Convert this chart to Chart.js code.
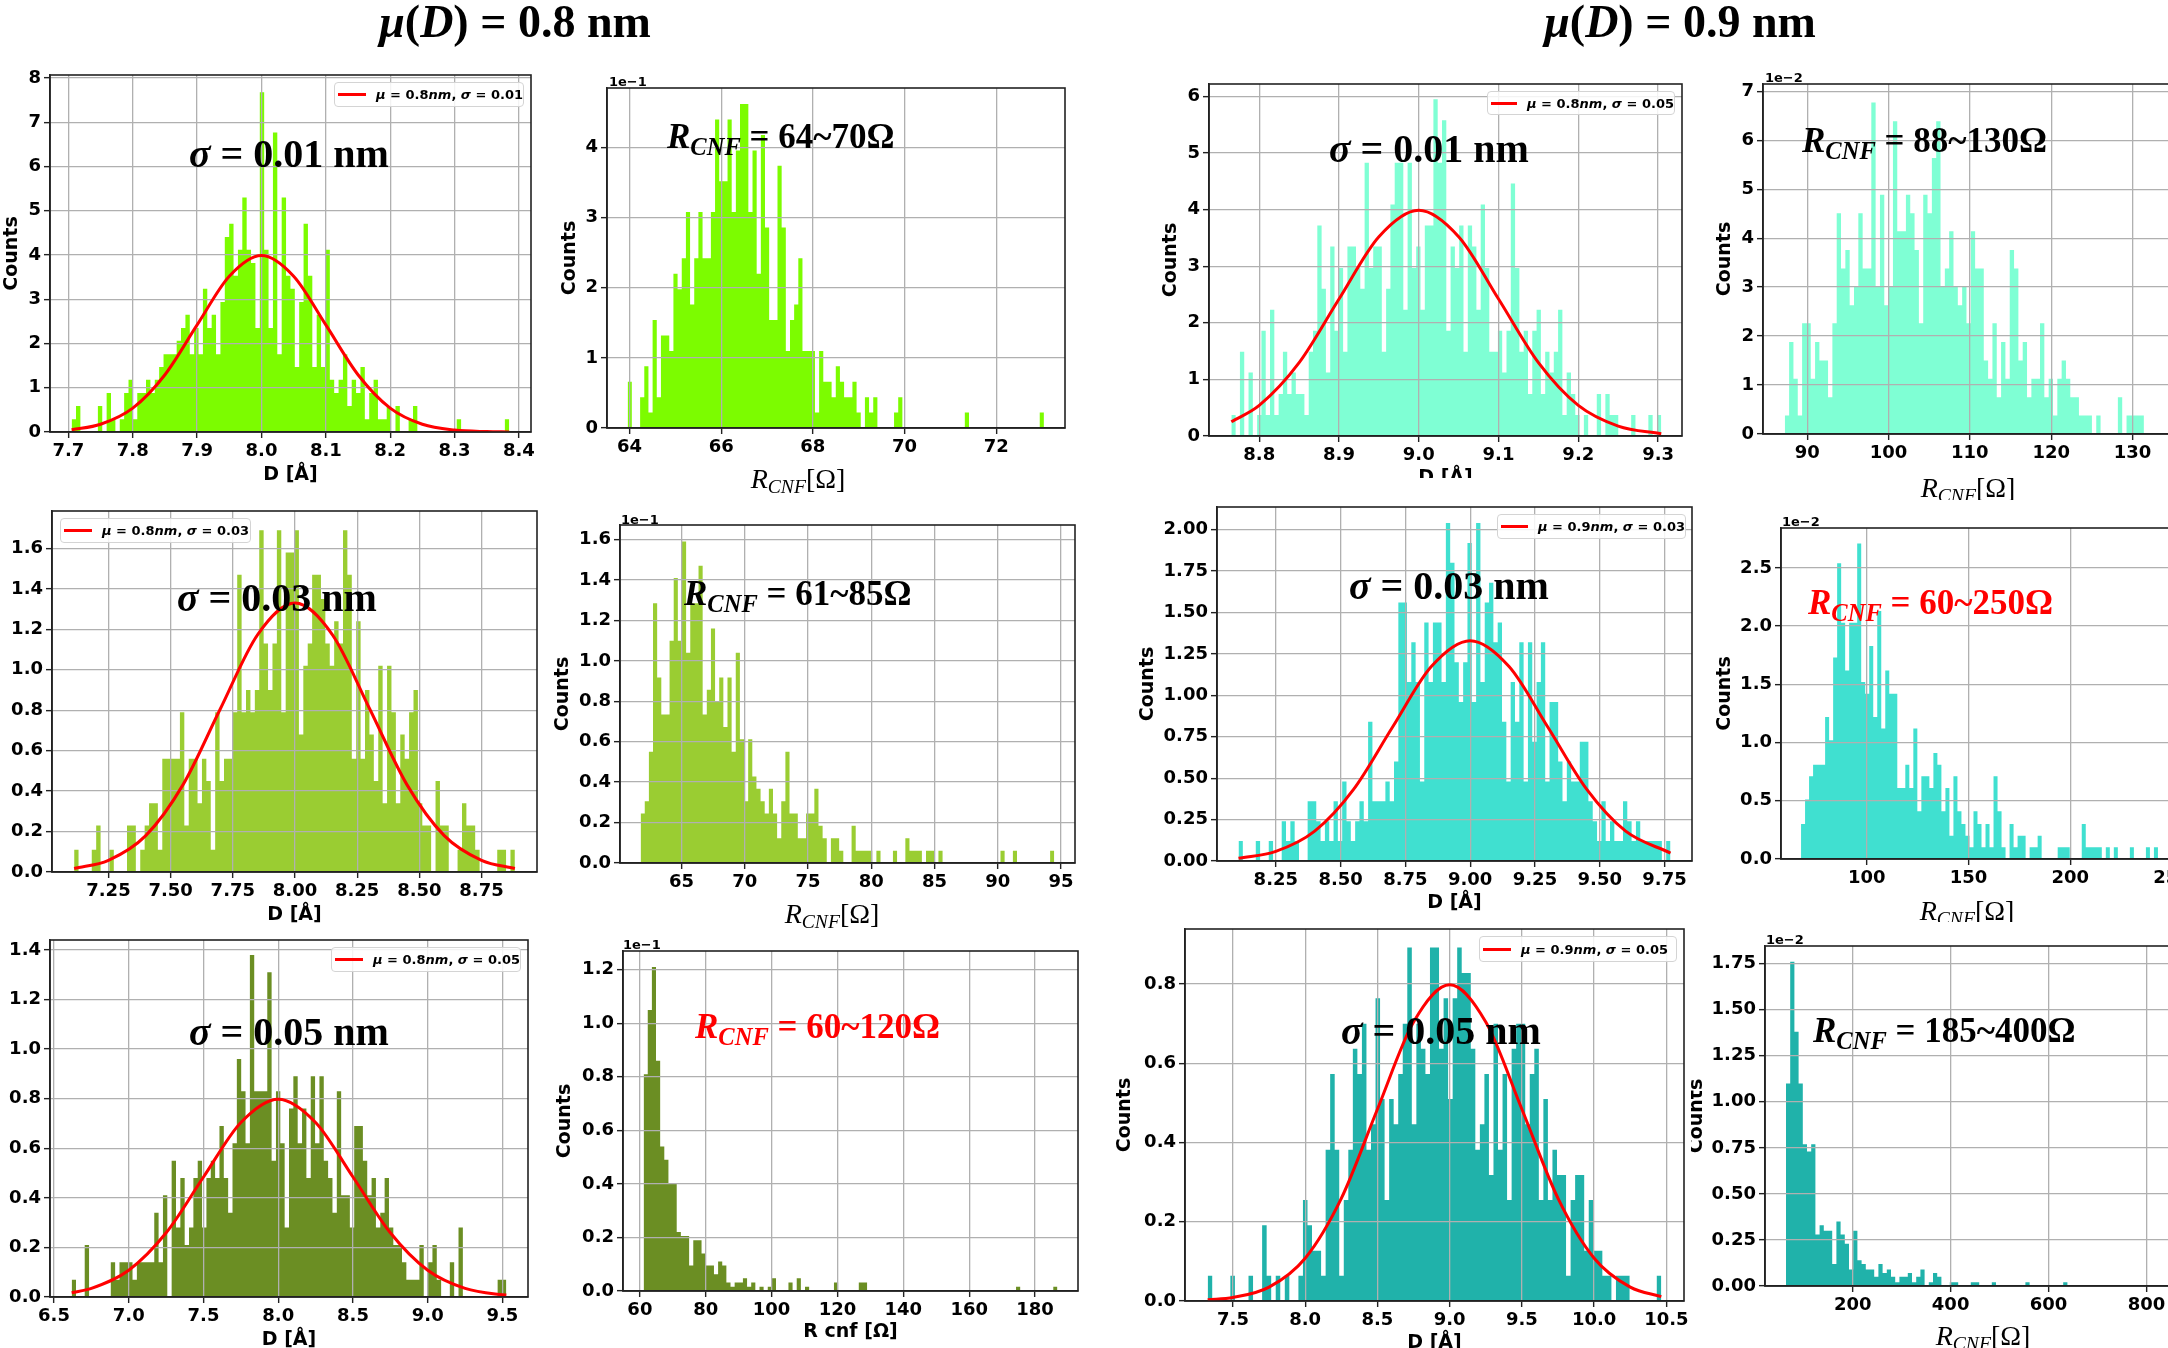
<!DOCTYPE html>
<html>
<head>
<meta charset="utf-8">
<script src="https://cdn.jsdelivr.net/npm/chart.js@4.4.1/dist/chart.umd.min.js"></script>
<style>
  html, body { margin: 0; padding: 0; background: #fff; }
  body { position: relative; width: 2168px; height: 1348px; overflow: hidden; }
  .panel { position: absolute; }
  .txt { position: absolute; white-space: nowrap; line-height: 1; }
  .serif { font-family: 'Liberation Serif', 'Times New Roman', serif; }
  .leg { position: absolute; box-sizing: border-box; border: 1px solid #d4d4d4; border-radius: 4px;
         background: rgba(255,255,255,0.85); display: flex; align-items: center;
         font: bold 13px 'DejaVu Sans', sans-serif; white-space: nowrap; }
  .leg .ln { display: inline-block; width: 28px; height: 3px; background: #ff0000; margin: 0 10px 0 3px; }
  .sb { position: relative; top: 0.3em; font-size: 0.7em; }
  .expo { font: bold 13px 'DejaVu Sans', sans-serif; }
</style>
</head>
<body>
<script>
// histograms (density, 100 bins), left column: mu(D) = 0.8 nm
var d08s01 = [0.29,0.59,0,0,0,0,0.59,0,0.88,0.29,
  0,0.29,0.88,1.18,0.29,0.88,0.88,1.18,0.88,1.18,
  1.47,1.76,1.76,1.76,2.06,2.35,2.65,1.76,2.35,1.76,
  3.24,2.35,2.65,1.76,2.94,4.41,4.71,3.53,4.12,5.30,
  4.12,3.82,2.35,7.68,4.12,2.35,6.77,1.76,5.30,3.53,
  3.24,1.47,2.94,4.71,3.53,1.47,2.65,1.47,4.12,1.18,
  0.88,1.18,1.76,0.59,1.18,0.88,1.47,0.29,0.88,1.18,
  0.29,0.29,0.59,0,0.59,0,0,0.29,0.59,0,
  0,0,0,0,0,0,0,0,0.29,0,
  0,0,0,0,0,0,0,0,0,0.29];
var d08s01Range = [7.705, 8.385];

// R_CNF, shown in units of 1e-1
var r08s01 = [0.66,0,0,0.44,0.88,0.22,1.54,0.44,1.32,1.32,
  1.10,2.20,1.98,2.42,3.08,1.76,2.42,3.08,2.42,2.42,
  3.08,4.40,3.52,3.52,4.40,3.08,3.96,4.62,4.62,3.08,
  3.96,2.20,4.18,2.86,1.54,1.54,3.74,2.86,1.10,1.54,
  1.76,2.42,1.10,1.10,1.10,0.22,1.10,0.66,0.66,0.44,
  0.88,0.66,0.44,0.44,0.66,0.22,0,0.44,0.22,0.44,
  0,0,0,0,0.22,0.44,0,0,0,0,
  0,0,0,0,0,0,0,0,0,0,
  0,0.22,0,0,0,0,0,0,0,0,
  0,0,0,0,0,0,0,0,0,0.22];
var r08s01Range = [63.96, 73.04];

var d08s03 = [0.11,0,0,0,0.11,0.23,0,0,0.11,0,
  0,0,0.23,0.23,0,0.11,0.23,0.34,0.34,0.11,
  0.56,0.56,0.56,0.56,0.79,0.23,0.56,0.56,0.34,0.56,
  0.45,0.11,0.79,0.45,0.56,0.56,0.79,1.47,0.79,0.90,
  0.79,0.90,1.69,1.13,0.90,1.13,1.69,0.79,1.58,1.58,
  1.69,0.68,1.02,1.13,1.47,1.47,1.35,1.13,1.02,1.24,
  1.13,1.69,1.47,0.56,1.24,0.56,0.90,0.68,0.45,1.02,
  0.34,1.02,0.79,0.34,0.68,0.56,0.79,0.90,0.34,0.23,
  0.23,0,0.45,0.23,0.23,0,0,0.11,0.34,0.23,
  0.23,0.11,0,0,0,0,0.11,0.11,0,0.11];
var d08s03Range = [7.112, 8.884];

var r08s03 = [0.245,0.306,0.55,1.285,0.918,0.734,0.734,1.10,1.41,1.10,
  1.59,1.04,1.285,1.285,1.47,0.734,0.857,1.16,0.796,0.918,
  0.673,0.918,0.55,1.04,0.612,0.306,0.612,0.428,0.367,0.306,
  0.245,0.367,0.245,0.122,0.306,0.55,0.245,0.245,0.122,0.122,
  0.245,0.245,0.367,0.184,0.122,0,0.122,0.122,0.061,0,
  0,0.184,0.061,0.061,0.061,0.061,0,0.061,0,0,
  0,0.061,0,0,0.122,0.061,0.061,0.061,0,0.061,
  0.061,0,0.061,0,0,0,0,0,0,0,
  0,0,0,0,0,0,0,0.061,0,0,
  0.061,0,0,0,0,0,0,0,0,0.061];
var r08s03Range = [61.76, 94.46];

var d08s05 = [0.07,0,0,0.21,0,0,0,0,0,0.14,
  0.07,0.14,0.14,0.14,0.07,0.14,0.14,0.14,0.14,0.34,
  0.14,0.41,0,0.55,0.28,0.48,0.21,0.28,0.48,0.55,
  0.28,0.48,0.55,0.48,0.69,0.48,0.34,0.62,0.96,0.83,
  0.62,1.38,0.83,0.83,0.83,1.31,0.55,0.83,0.62,0.28,
  0.76,0.89,0.62,0.76,0.48,0.89,0.62,0.89,0.55,0.48,
  0.34,0.83,0.41,0.41,0.28,0.69,0.69,0.55,0.41,0.48,
  0.28,0.34,0.48,0.28,0.21,0.21,0.14,0.07,0.07,0.07,
  0.21,0,0.14,0.21,0.07,0,0,0.14,0,0.28,
  0,0,0,0,0,0,0,0,0.07,0.07];
var d08s05Range = [6.618, 9.526];

var r08s05 = [0.81,1.05,1.21,0.86,0.54,0.49,0.40,0.40,0.22,0.205,
  0.205,0.095,0.19,0.19,0.14,0.095,0.095,0.063,0.11,0.095,
  0.032,0.016,0.032,0.032,0.048,0.016,0.032,0,0.016,0,
  0.016,0.048,0,0,0,0.032,0,0.048,0,0.016,
  0,0,0,0,0,0,0.032,0,0,0,
  0,0,0.032,0.032,0,0,0,0,0,0,
  0,0,0,0,0,0,0,0,0,0,
  0,0,0,0,0,0,0,0,0,0,
  0,0,0,0,0,0,0,0,0,0,
  0.016,0,0,0,0,0,0,0,0,0.016];
var r08s05Range = [61.13, 186.8];

// right column: mu(D) = 0.9 nm
var d09s01 = [0.37,0,1.49,0,1.12,0,0.37,1.86,0.37,2.23,
  0.37,0.74,1.49,0.74,1.12,0.74,0.74,0.37,1.49,1.86,
  3.72,2.60,1.12,3.35,1.86,2.97,1.49,3.35,3.35,2.97,
  2.60,4.83,2.97,3.35,3.35,1.49,2.60,4.09,4.83,4.83,
  2.23,4.83,2.97,3.35,2.23,3.72,3.72,5.95,4.83,5.58,
  1.86,3.35,2.97,3.72,1.49,3.72,3.35,2.23,4.09,2.97,
  1.49,1.49,1.86,1.12,1.86,4.46,2.97,1.49,1.86,0.74,
  1.86,2.23,0.74,1.49,1.12,1.49,2.23,0.37,1.12,0.74,
  0.37,0,0.37,0,0,0.74,0,0.74,0.37,0.37,
  0,0,0,0.37,0,0,0,0.37,0,0.37];
var d09s01Range = [8.765, 9.304];

// units of 1e-2
var r09s01 = [0.38,1.88,1.13,0.38,2.26,2.26,1.13,1.88,1.50,1.50,
  0.75,2.26,4.51,3.38,3.76,2.63,3.01,4.51,3.38,3.38,
  6.77,3.01,4.89,2.63,3.01,6.39,4.14,4.14,4.89,4.51,
  3.76,2.26,4.89,4.51,5.64,6.39,3.01,3.38,4.14,3.01,
  2.63,3.01,2.26,4.14,3.38,3.38,1.50,1.13,2.26,0.75,
  1.88,1.13,3.76,3.38,1.50,1.88,0.75,1.13,1.13,2.26,
  0.75,1.13,0.38,1.13,1.50,1.13,0.75,0.75,0.38,0.38,
  0.38,0,0.38,0,0,0,0,0.75,0,0.38,
  0.38,0.38,0.38,0,0,0,0,0,0,0,
  0,0,0,0,0,0,0,0,0,0.38];
var r09s01Range = [87.24, 140.44];

var d09s03 = [0.12,0,0,0,0.12,0,0,0.12,0,0,
  0.24,0.12,0.24,0.12,0,0,0.36,0.36,0.24,0.12,
  0.24,0.12,0.36,0.12,0.48,0.24,0.12,0.24,0.36,0.24,
  0.84,0.36,0.36,0.36,0.48,0.36,0.60,1.56,1.56,1.08,
  1.32,1.08,0.48,1.44,1.08,1.44,1.44,1.08,2.04,1.80,
  1.20,0.96,1.20,1.92,0.96,2.04,1.08,1.56,1.68,1.32,
  1.44,0.84,0.48,1.08,0.84,1.32,0.48,1.32,0.72,1.08,
  1.32,0.48,0.96,0.96,0.60,0.36,0.60,0.48,0.48,0.72,
  0.72,0.36,0.24,0.12,0.36,0.12,0.24,0.12,0.12,0.36,
  0.24,0.12,0.24,0.12,0.12,0.12,0.12,0.12,0,0.12];
var d09s03Range = [8.106, 9.773];

var r09s03 = [0.30,0.51,0.71,0.81,0.81,0.81,1.22,1.02,1.73,2.54,
  2.03,1.62,2.03,2.03,2.71,1.52,1.42,1.83,1.22,2.13,
  1.12,1.62,1.42,1.42,0.61,0.61,0.81,0.61,1.12,0.41,
  0.71,0.71,0.61,0.91,0.81,0.41,0.61,0.20,0.71,0.41,
  0.30,0.20,0.10,0.41,0.30,0.10,0.30,0.10,0.71,0.41,
  0.10,0,0.30,0.10,0.20,0.20,0,0.10,0.10,0.20,
  0,0,0,0,0.10,0.10,0.10,0,0,0,
  0.30,0.10,0.10,0.10,0.10,0,0.10,0,0.10,0,
  0,0,0.10,0,0,0,0.10,0,0.10,0,
  0,0,0,0,0,0,0,0,0,0.10];
var r09s03Range = [67.7, 264.7];

var d09s05 = [0.064,0,0,0,0,0.064,0,0,0,0.064,
  0,0,0.191,0.064,0,0.064,0,0.064,0,0,
  0.064,0.255,0.191,0.127,0.127,0.064,0.382,0.573,0.382,0.064,
  0.255,0.382,0.637,0.573,0.70,0.382,0.446,0.764,0.51,0.255,
  0.51,0.446,0.573,0.70,0.892,0.446,0.70,0.637,0.573,0.892,
  0.892,0.637,0.764,0.51,0.764,0.892,0.828,0.828,0.637,0.382,
  0.446,0.573,0.318,0.70,0.382,0.573,0.255,0.637,0.70,0.70,
  0.446,0.573,0.637,0.255,0.51,0.255,0.382,0.318,0.318,0.064,
  0.255,0.318,0.318,0.127,0.255,0.127,0.127,0.064,0.064,0,
  0.064,0.064,0.064,0,0,0,0,0,0,0.064];
var d09s05Range = [7.325, 10.465];

var r09s05 = [1.10,1.76,1.38,1.10,0.77,0.73,0.77,0.28,0.33,0.30,
  0.30,0.12,0.35,0.28,0.23,0.09,0.30,0.14,0.12,0.09,
  0.09,0.05,0.12,0.07,0.09,0.05,0.02,0.05,0.05,0.07,
  0.02,0.05,0.09,0,0.02,0.07,0.05,0,0,0.02,
  0.02,0,0,0,0.02,0.02,0,0,0,0.02,
  0,0,0,0,0,0,0,0.02,0,0,
  0,0,0,0,0,0,0.02,0,0,0,
  0,0,0,0,0,0,0,0,0,0,
  0,0,0,0,0,0,0,0,0,0,
  0,0,0,0,0,0,0,0,0,0.02];
var r09s05Range = [63.7, 921.7];

// red normal curves
var c08s01X = [7.705,7.75,7.80,7.85,7.90,7.95,8.00,8.05,8.10,8.15,8.20,8.25,8.30,8.35,8.385];
var c08s01Y = [0.051,0.175,0.540,1.295,2.420,3.521,3.989,3.521,2.420,1.295,0.540,0.175,0.044,0.009,0.002];
var c08s03X = [7.112,7.25,7.40,7.55,7.70,7.85,8.00,8.15,8.30,8.45,8.60,8.75,8.884];
var c08s03Y = [0.017,0.058,0.180,0.432,0.807,1.174,1.330,1.174,0.807,0.432,0.180,0.058,0.017];
var c08s05X = [6.618,6.75,7.00,7.25,7.50,7.75,8.00,8.25,8.50,8.75,9.00,9.25,9.50,9.526];
var c08s05Y = [0.0175,0.035,0.108,0.259,0.484,0.704,0.798,0.704,0.484,0.259,0.108,0.035,0.0089,0.0076];
var c09s01X = [8.765,8.80,8.85,8.90,8.95,9.00,9.05,9.10,9.15,9.20,9.25,9.304];
var c09s01Y = [0.252,0.540,1.295,2.420,3.521,3.989,3.521,2.420,1.295,0.540,0.175,0.039];
var c09s03X = [8.106,8.25,8.40,8.55,8.70,8.85,9.00,9.15,9.30,9.45,9.60,9.773];
var c09s03Y = [0.016,0.058,0.180,0.432,0.807,1.174,1.330,1.174,0.807,0.432,0.180,0.048];
var c09s05X = [7.325,7.50,7.75,8.00,8.25,8.50,8.75,9.00,9.25,9.50,9.75,10.00,10.25,10.465];
var c09s05Y = [0.003,0.0089,0.035,0.108,0.259,0.484,0.704,0.798,0.704,0.484,0.259,0.108,0.035,0.011];

// tick labels
var xt08s01 = ['7.7','7.8','7.9','8.0','8.1','8.2','8.3','8.4'];
var yt08s01 = ['0','1','2','3','4','5','6','7','8'];
var xtR08s01 = ['64','66','68','70','72'];
var ytR08s01 = ['0','1','2','3','4'];
var xt08s03 = ['7.25','7.50','7.75','8.00','8.25','8.50','8.75'];
var yt08s03 = ['0.0','0.2','0.4','0.6','0.8','1.0','1.2','1.4','1.6'];
var xtR08s03 = ['65','70','75','80','85','90','95'];
var ytR08s03 = ['0.0','0.2','0.4','0.6','0.8','1.0','1.2','1.4','1.6'];
var xt08s05 = ['6.5','7.0','7.5','8.0','8.5','9.0','9.5'];
var yt08s05 = ['0.0','0.2','0.4','0.6','0.8','1.0','1.2','1.4'];
var xtR08s05 = ['60','80','100','120','140','160','180'];
var ytR08s05 = ['0.0','0.2','0.4','0.6','0.8','1.0','1.2'];
var xt09s01 = ['8.8','8.9','9.0','9.1','9.2','9.3'];
var yt09s01 = ['0','1','2','3','4','5','6'];
var xtR09s01 = ['90','100','110','120','130','140'];
var ytR09s01 = ['0','1','2','3','4','5','6','7'];
var xt09s03 = ['8.25','8.50','8.75','9.00','9.25','9.50','9.75'];
var yt09s03 = ['0.00','0.25','0.50','0.75','1.00','1.25','1.50','1.75','2.00'];
var xtR09s03 = ['100','150','200','250'];
var ytR09s03 = ['0.0','0.5','1.0','1.5','2.0','2.5'];
var xt09s05 = ['7.5','8.0','8.5','9.0','9.5','10.0','10.5'];
var yt09s05 = ['0.0','0.2','0.4','0.6','0.8'];
var xtR09s05 = ['200','400','600','800'];
var ytR09s05 = ['0.00','0.25','0.50','0.75','1.00','1.25','1.50','1.75'];

function sigmaNote(s) { return '<i>σ</i> = ' + s + ' nm'; }
function rNote(s) { return '<i>R</i><span class="sb"><i>CNF</i></span> = ' + s + 'Ω'; }
function legText(m, s) { return '<span><i>μ</i> = ' + m + '<i>nm</i>, <i>σ</i> = ' + s + '</span>'; }

var panels = [
  { vals: d08s01, range: d08s01Range, cx: c08s01X, cy: c08s01Y, xt: xt08s01, yt: yt08s01, color: '#7cfc00',
    plot: [50, 75, 531, 432], xr: [7.6714, 8.4188], yr: [0, 8.07], ylabX: 12, xlab: 'D [Å]', xlabY: 475, z: 1,
    note: { html: sigmaNote('0.01'), x: 189, base: 167, size: 40 },
    leg: { html: legText('0.8', '0.01'), box: [334, 82, 524, 107] } },
  { vals: r08s01, range: r08s01Range, xt: xtR08s01, yt: ytR08s01, color: '#7cfc00',
    plot: [607, 88, 1065, 428], xr: [63.51, 73.50], yr: [0, 4.85], ylabX: 570, z: 1,
    note: { html: rNote('64~70'), x: 667, base: 148, size: 35 },
    expo: { text: '1e−1', x: 609, y: 74 }, xhtml: { cx: 798, base: 488 } },
  { vals: d09s01, range: d09s01Range, cx: c09s01X, cy: c09s01Y, xt: xt09s01, yt: yt09s01, color: '#7fffd4',
    plot: [1209, 84, 1682, 436], xr: [8.737, 9.330], yr: [0, 6.22], ylabX: 1171, xlab: 'D [Å]', xlabY: 478, z: 1,
    right: 1712,
    note: { html: sigmaNote('0.01'), x: 1329, base: 162, size: 40 },
    leg: { html: legText('0.8', '0.05'), box: [1487, 91, 1675, 115] } },
  { vals: r09s01, range: r09s01Range, xt: xtR09s01, yt: ytR09s01, color: '#7fffd4',
    plot: [1763, 84, 2239, 434], xr: [84.56, 143.1], yr: [0, 7.15], ylabX: 1725, z: 1,
    note: { html: rNote('88~130'), x: 1802, base: 152, size: 35 },
    expo: { text: '1e−2', x: 1765, y: 70 }, xhtml: { cx: 1968, base: 497 } },

  { vals: d08s03, range: d08s03Range, cx: c08s03X, cy: c08s03Y, xt: xt08s03, yt: yt08s03, color: '#9acd32',
    plot: [52, 511, 537, 872], xr: [7.023, 8.973], yr: [0, 1.785], ylabX: -14, xlab: 'D [Å]', xlabY: 915, z: 2,
    note: { html: sigmaNote('0.03'), x: 177, base: 611, size: 40 },
    leg: { html: legText('0.8', '0.03'), box: [60, 518, 251, 543] } },
  { vals: r08s03, range: r08s03Range, xt: xtR08s03, yt: ytR08s03, color: '#9acd32',
    plot: [620, 525, 1075, 863], xr: [60.13, 96.1], yr: [0, 1.672], ylabX: 563, z: 2,
    note: { html: rNote('61~85'), x: 684, base: 605, size: 35 },
    expo: { text: '1e−1', x: 621, y: 512 }, xhtml: { cx: 832, base: 923 } },
  { vals: d09s03, range: d09s03Range, cx: c09s03X, cy: c09s03Y, xt: xt09s03, yt: yt09s03, color: '#40e0d0',
    plot: [1217, 507, 1692, 861], xr: [8.023, 9.856], yr: [0, 2.137], ylabX: 1148, xlab: 'D [Å]', xlabY: 903, z: 2,
    top: 478, right: 1712, bg: '#fff',
    note: { html: sigmaNote('0.03'), x: 1349, base: 599, size: 40 },
    leg: { html: legText('0.9', '0.03'), box: [1497, 514, 1686, 539] } },
  { vals: r09s03, range: r09s03Range, xt: xtR09s03, yt: ytR09s03, color: '#40e0d0',
    plot: [1781, 528, 2222, 859], xr: [57.85, 274.5], yr: [0, 2.843], ylabX: 1725, z: 2,
    top: 500, bg: '#fff',
    note: { html: rNote('60~250'), x: 1808, base: 614, size: 35, color: '#ff0000' },
    expo: { text: '1e−2', x: 1782, y: 514 }, xhtml: { cx: 1967, base: 920 } },

  { vals: d08s05, range: d08s05Range, cx: c08s05X, cy: c08s05Y, xt: xt08s05, yt: yt08s05, color: '#6b8e23',
    plot: [50, 940, 528, 1297], xr: [6.473, 9.671], yr: [0, 1.44], ylabX: -14, xlab: 'D [Å]', xlabY: 1340, z: 3,
    note: { html: sigmaNote('0.05'), x: 189, base: 1045, size: 40 },
    leg: { html: legText('0.8', '0.05'), box: [331, 947, 521, 972] } },
  { vals: r08s05, range: r08s05Range, xt: xtR08s05, yt: ytR08s05, color: '#6b8e23',
    plot: [623, 951, 1078, 1291], xr: [54.87, 193.05], yr: [0, 1.27], ylabX: 565, xlab: 'R cnf [Ω]', xlabY: 1332, z: 3,
    note: { html: rNote('60~120'), x: 695, base: 1038, size: 35, color: '#ff0000' },
    expo: { text: '1e−1', x: 623, y: 937 } },
  { vals: r09s05, range: r09s05Range, xt: xtR09s05, yt: ytR09s05, color: '#20b2aa',
    plot: [1765, 946, 2227, 1286], xr: [20.8, 964.6], yr: [0, 1.846], ylabX: 1697, z: 3,
    top: 922, bg: '#fff',
    note: { html: rNote('185~400'), x: 1813, base: 1042, size: 35 },
    expo: { text: '1e−2', x: 1766, y: 932 }, xhtml: { cx: 1983, base: 1345 } },
  { vals: d09s05, range: d09s05Range, cx: c09s05X, cy: c09s05Y, xt: xt09s05, yt: yt09s05, color: '#20b2aa',
    plot: [1185, 929, 1684, 1301], xr: [7.168, 10.622], yr: [0, 0.939], ylabX: 1125, xlab: 'D [Å]', xlabY: 1343, z: 4,
    top: 919, right: 1691, bg: '#fff',
    note: { html: sigmaNote('0.05'), x: 1341, base: 1044, size: 40 },
    leg: { html: legText('0.9', '0.05'), box: [1479, 936, 1677, 962] } }
];

Chart.defaults.font.family = "'DejaVu Sans', sans-serif";
Chart.defaults.color = '#000';

// closes the box on top and right like the matplotlib spines
var frame = {
  id: 'frame',
  afterDraw: function (chart) {
    var a = chart.chartArea, ctx = chart.ctx;
    ctx.save();
    ctx.strokeStyle = '#222';
    ctx.lineWidth = 1.6;
    ctx.strokeRect(a.left, a.top, a.right - a.left, a.bottom - a.top);
    ctx.restore();
  }
};

function histPoints(vals, range) {
  var w = (range[1] - range[0]) / vals.length;
  var pts = vals.map(function (v, i) { return { x: range[0] + i * w, y: v }; });
  pts.push({ x: range[1], y: vals[vals.length - 1] });
  return pts;
}

function tickList(labels) {
  return labels.map(function (s) { return { value: parseFloat(s) }; });
}

function put(html, css, z, cls) {
  var el = document.createElement('div');
  el.className = cls || 'txt';
  el.innerHTML = html;
  el.style.cssText = css + ';z-index:' + z;
  document.body.appendChild(el);
  return el;
}

function drawPanel(p) {
  var L = p.plot[0], T = p.plot[1], R = p.plot[2], B = p.plot[3];
  var lh = 19 * 1.2;
  var left = Math.round(p.ylabX - lh / 2);
  var top = p.top !== undefined ? p.top : T - 40;
  var bottom = Math.round(p.xlab ? p.xlabY + lh / 2 : B + 45);
  var right = p.right || R + 40;

  var box = document.createElement('div');
  box.className = 'panel';
  box.style.cssText = 'left:' + left + 'px;top:' + top + 'px;width:' + (right - left) + 'px;height:' +
    (bottom - top) + 'px;z-index:' + p.z + ';background:' + (p.bg || 'transparent');
  var cv = document.createElement('canvas');
  cv.width = right - left;
  cv.height = bottom - top;
  box.appendChild(cv);
  document.body.appendChild(box);

  var datasets = [{
    data: histPoints(p.vals, p.range),
    stepped: 'before',
    fill: 'origin',
    backgroundColor: p.color,
    borderColor: 'rgba(0,0,0,0)',
    borderWidth: 1,
    pointRadius: 0
  }];
  if (p.cx) {
    datasets.push({
      data: p.cx.map(function (x, i) { return { x: x, y: p.cy[i] }; }),
      borderColor: '#ff0000',
      borderWidth: 3,
      pointRadius: 0,
      fill: false,
      cubicInterpolationMode: 'monotone'
    });
  }

  var tickFont = { size: 18, weight: 'bold' };
  var titleFont = { size: 19, weight: 'bold' };
  var grid = { color: '#b0b0b0', lineWidth: 1.3, tickLength: 6, tickColor: '#222', tickWidth: 1.4 };

  new Chart(cv, {
    type: 'line',
    data: { datasets: datasets },
    options: {
      responsive: false,
      animation: false,
      devicePixelRatio: 1,
      layout: { padding: { left: 0, top: T - top, right: right - R, bottom: 0 } },
      plugins: {
        legend: { display: false },
        tooltip: { enabled: false },
        filler: { drawTime: 'beforeDraw' }
      },
      scales: {
        x: {
          type: 'linear', min: p.xr[0], max: p.xr[1],
          afterBuildTicks: function (s) { s.ticks = tickList(p.xt); },
          afterFit: function (s) { s.height = bottom - B; s.paddingLeft = 0; s.paddingRight = 0; },
          ticks: { font: tickFont, color: '#000', padding: 3, maxRotation: 0, autoSkip: false,
            callback: function (v, i) { return p.xt[i]; } },
          grid: grid,
          border: { color: '#222', width: 1.6 },
          title: { display: !!p.xlab, text: p.xlab || '', font: titleFont, color: '#000', padding: 0 }
        },
        y: {
          type: 'linear', min: p.yr[0], max: p.yr[1],
          afterBuildTicks: function (s) { s.ticks = tickList(p.yt); },
          afterFit: function (s) { s.width = L - left; s.paddingTop = 0; s.paddingBottom = 0; },
          ticks: { font: tickFont, color: '#000', padding: 3, autoSkip: false,
            callback: function (v, i) { return p.yt[i]; } },
          grid: grid,
          border: { color: '#222', width: 1.6 },
          title: { display: true, text: 'Counts', font: titleFont, color: '#000', padding: 0 }
        }
      }
    },
    plugins: [frame]
  });

  if (p.note) {
    put(p.note.html, 'left:' + p.note.x + 'px;top:' + (p.note.base - 0.8375 * p.note.size) +
      'px;font-size:' + p.note.size + 'px;font-weight:bold;color:' + (p.note.color || '#000'), p.z, 'txt serif');
  }
  if (p.leg) {
    var b = p.leg.box;
    put('<span class="ln"></span>' + p.leg.html, 'left:' + b[0] + 'px;top:' + b[1] + 'px;width:' +
      (b[2] - b[0]) + 'px;height:' + (b[3] - b[1]) + 'px', p.z, 'leg');
  }
  if (p.expo) {
    put(p.expo.text, 'left:' + p.expo.x + 'px;top:' + p.expo.y + 'px', p.z, 'txt expo');
  }
  if (p.xhtml) {
    put('<i>R</i><span class="sb"><i>CNF</i></span>[Ω]', 'left:' + p.xhtml.cx + 'px;top:' +
      (p.xhtml.base - 0.8375 * 28) + 'px;font-size:28px;transform:translateX(-50%)', p.z, 'txt serif');
  }
}

panels.forEach(drawPanel);

// column titles
put('<i>μ</i>(<i>D</i>) = 0.8 nm', 'left:515px;top:' + (38 - 0.8375 * 46) +
  'px;font-size:46px;font-weight:bold;transform:translateX(-50%)', 9, 'txt serif');
put('<i>μ</i>(<i>D</i>) = 0.9 nm', 'left:1680px;top:' + (38 - 0.8375 * 46) +
  'px;font-size:46px;font-weight:bold;transform:translateX(-50%)', 9, 'txt serif');
</script>
</body>
</html>
